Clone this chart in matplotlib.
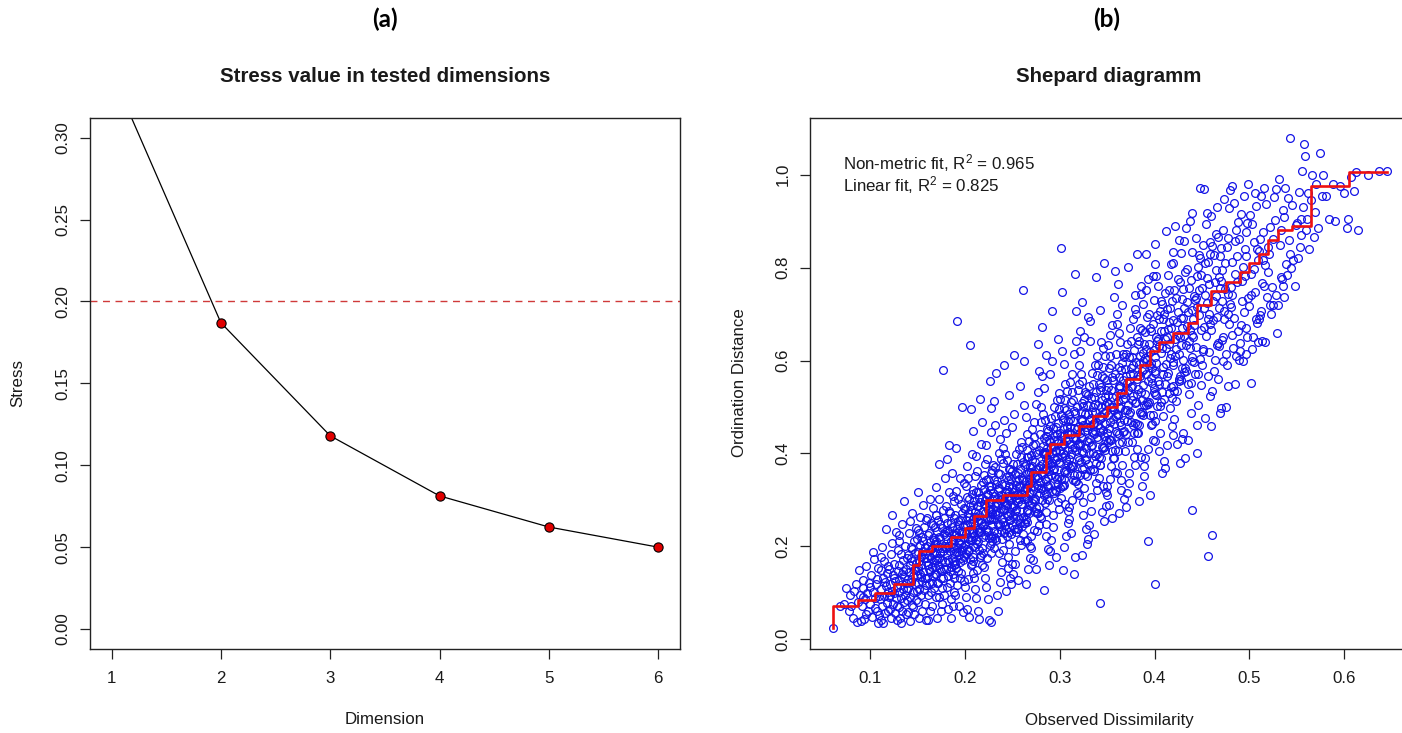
import matplotlib
matplotlib.use('Agg')
import matplotlib.pyplot as plt
import numpy as np

# ---------------- data ----------------
dimensions = [1, 2, 3, 4, 5, 6]
stress = [0.34, 0.187, 0.118, 0.0813, 0.0623, 0.050]
stress_threshold = 0.2

# Shepard diagram points (observed dissimilarity, ordination distance), in thousandths
shepard_points = [
(61,24),(68,72),(72,75),(75,110),(78,60),(79,95),
(80,72),(82,45),(83,105),(85,120),(86,38),(87,80),(88,150),(89,95),
(90,40),(91,72),(92,110),(93,128),(94,44),(95,86),(96,158),(97,100),(98,62),(99,122),(92,90),(96,55),
(100,76),(101,138),(102,48),(103,101),(104,172),(105,88),(106,118),(107,62),(108,154),(108,35),(109,94),(100,113),(103,188),(105,68),(107,129),(109,52),
(110,86),(111,149),(111,41),(112,108),(113,198),(113,71),(114,131),(115,94),(115,168),(116,56),(117,114),(117,238),(118,79),(118,143),(119,101),(119,61),(112,178),(114,36),(116,124),(119,158),
(120,92),(120,151),(121,66),(121,119),(122,184),(122,46),(123,104),(123,208),(124,76),(124,139),(125,99),(125,163),(126,56),(126,126),(127,89),(127,231),(128,112),(128,71),(129,148),(129,192),(121,96),(123,268),(125,131),(128,41),
(130,101),(130,159),(131,69),(131,128),(131,212),(132,46),(132,116),(133,184),(133,89),(134,141),(134,61),(134,248),(135,109),(135,171),(136,81),(136,134),(136,298),(137,96),(137,201),(138,54),(138,151),(138,121),(139,176),(139,84),(130,224),(133,36),(135,146),(139,106),
(140,111),(140,181),(140,59),(141,144),(141,229),(142,91),(142,161),(142,39),(143,124),(143,199),(144,74),(144,169),(144,272),(145,136),(145,101),(146,211),(146,54),(146,149),(147,119),(147,186),(148,84),(148,164),(148,239),(149,139),(149,104),(140,129),(142,254),(144,194),(145,69),(147,152),(149,216),(143,176),
(150,121),(150,188),(150,318),(151,149),(151,81),(151,236),(152,169),(152,109),(152,46),(153,204),(153,141),(153,264),(154,96),(154,179),(154,159),(155,126),(155,221),(155,61),(156,191),(156,144),(156,289),(157,106),(157,174),(157,241),(158,131),(158,199),(158,76),(159,166),(159,116),(159,256),(150,156),(152,229),(154,134),(156,211),(158,184),(159,42),
(160,131),(160,201),(160,262),(161,159),(161,96),(161,41),(162,181),(162,228),(162,121),(163,146),(163,209),(163,302),(164,101),(164,176),(164,251),(165,156),(165,196),(165,71),(166,136),(166,219),(166,282),(167,166),(167,111),(167,186),(168,241),(168,141),(168,206),(169,91),(169,171),(169,328),(160,176),(161,224),(162,151),(163,61),(164,194),(165,121),(166,246),(167,214),(168,156),(169,268),
(170,141),(170,211),(170,268),(171,46),(171,176),(171,234),(172,121),(172,196),(172,161),(173,221),(173,91),(173,301),(174,151),(174,249),(174,186),(175,131),(175,206),(175,61),(176,171),(176,239),(176,111),(177,580),(177,191),(177,279),(178,151),(178,226),(178,96),(179,201),(179,166),(179,348),(170,186),(171,121),(172,256),(173,176),(174,216),(175,146),(176,196),(177,131),(178,261),(179,231),(173,378),(176,76),
(180,152),(180,222),(180,288),(181,181),(181,112),(181,251),(182,201),(182,136),(182,66),(183,231),(183,166),(183,318),(184,191),(184,121),(184,271),(185,211),(185,156),(185,86),(186,241),(186,176),(186,358),(187,141),(187,216),(187,196),(188,262),(188,161),(188,101),(189,226),(189,186),(189,298),(180,196),(181,236),(182,171),(183,276),(184,146),(185,251),(186,206),(187,308),(188,131),(189,166),(183,418),(185,46),(187,71),(181,388),
(190,163),(191,228),(192,685),(193,188),(194,247),(195,132),(196,205),(197,272),(198,171),(199,219),
(190,96),(191,154),(192,238),(193,301),(194,182),(195,213),(196,143),(197,261),(198,199),(199,336),
(190,224),(191,187),(192,117),(193,254),(194,208),(195,166),(196,291),(197,232),(198,58),(199,178),
(190,268),(191,412),(192,196),(193,147),(194,233),(195,348),(196,176),(197,499),(198,243),(199,125),
(191,319),(193,221),(195,257),(197,192),(199,282),(194,72),
(200,246),(201,183),(202,307),(203,218),(204,264),(205,633),(206,159),(207,232),(208,289),(209,201),
(200,112),(201,256),(202,194),(203,347),(204,236),(205,172),(206,279),(207,213),(208,143),(209,321),
(200,281),(201,228),(202,66),(203,189),(204,302),(205,251),(206,221),(207,398),(208,177),(209,259),
(200,204),(201,331),(202,247),(203,129),(204,192),(205,286),(206,238),(207,163),(208,449),(209,228),
(201,92),(203,271),(205,214),(207,313),(209,168),(202,372),(204,48),(206,495),
(210,264),(211,198),(212,318),(213,236),(214,287),(215,44),(216,178),(217,251),(218,305),(219,221),
(210,131),(211,274),(212,214),(213,362),(214,254),(215,193),(216,296),(217,232),(218,161),(219,338),
(210,298),(211,246),(212,88),(213,206),(214,318),(215,268),(216,239),(217,421),(218,196),(219,277),
(210,223),(211,351),(212,263),(213,149),(214,211),(215,304),(216,256),(217,182),(218,468),(219,244),
(211,108),(213,288),(215,231),(217,333),(219,186),(212,394),(214,62),(216,518),
(220,291),(221,224),(222,342),(223,261),(224,311),(225,42),(226,203),(227,276),(228,331),(229,246),
(220,156),(221,299),(222,238),(223,388),(224,279),(225,218),(226,322),(227,258),(228,186),(229,364),
(220,323),(221,271),(222,112),(223,231),(224,344),(225,293),(226,264),(227,447),(228,221),(229,302),
(220,248),(221,377),(222,288),(223,174),(224,236),(225,329),(226,281),(227,207),(228,498),(229,269),
(221,133),(223,313),(225,256),(227,358),(229,211),(222,418),(224,86),(226,557),(228,38),(220,354),
(239,302),(238,236),(237,355),(236,274),(235,322),(234,96),(233,214),(232,288),(231,343),(230,258),
(239,167),(238,311),(237,249),(236,401),(235,291),(234,229),(233,334),(232,269),(231,197),(230,376),
(239,334),(238,283),(237,124),(236,243),(235,357),(234,305),(233,276),(232,461),(231,233),(230,314),
(239,259),(238,389),(237,299),(236,186),(235,248),(234,341),(233,293),(232,219),(231,512),(230,281),
(238,145),(236,325),(234,268),(232,371),(230,223),(237,431),(235,62),(233,574),(231,308),(239,216),
(245,308),(242,247),(248,366),(240,281),(247,329),(243,104),(249,226),(241,297),(246,352),(244,268),
(245,178),(242,318),(248,256),(240,412),(247,299),(243,237),(249,345),(241,278),(246,205),(244,387),
(245,343),(242,290),(248,132),(240,252),(247,366),(243,314),(249,285),(241,472),(246,241),(244,322),
(245,266),(242,398),(248,307),(240,193),(247,256),(243,350),(249,301),(241,228),(246,526),(244,289),
(245,153),(242,333),(248,275),(240,380),(247,231),(243,444),(249,118),(241,590),(246,316),(244,222),
(253,322),(257,258),(251,377),(259,292),(255,341),(250,163),(256,237),(252,309),(258,366),(254,278),
(253,189),(257,331),(251,266),(259,425),(255,311),(250,247),(256,357),(252,289),(258,214),(254,399),
(253,355),(257,301),(251,140),(259,262),(255,378),(250,326),(256,296),(252,486),(258,251),(254,333),
(253,276),(257,410),(251,318),(259,203),(255,265),(250,362),(256,312),(252,238),(258,545),(254,300),
(253,162),(257,345),(251,285),(259,392),(255,240),(250,458),(256,128),(252,612),(258,327),(254,232),
(269,336),(268,271),(267,392),(266,305),(265,356),(264,120),(263,250),(262,322),(261,381),(260,291),
(269,201),(268,346),(267,279),(266,441),(265,325),(264,260),(263,372),(262,302),(261,226),(260,414),
(269,370),(268,315),(267,151),(266,275),(265,393),(264,341),(263,309),(262,505),(261,263),(260,348),
(269,289),(268,426),(267,332),(266,214),(265,278),(264,377),(263,326),(262,250),(261,751),(260,313),
(269,175),(268,360),(267,298),(266,408),(265,252),(264,478),(263,212),(262,598),(261,342),(260,244),
(270,361),(271,294),(272,418),(273,329),(274,381),(275,152),(276,272),(277,347),(278,407),(279,315),
(270,222),(271,372),(272,302),(273,468),(274,350),(275,283),(276,398),(277,326),(278,247),(279,441),
(270,396),(271,340),(272,171),(273,298),(274,420),(275,367),(276,333),(277,533),(278,285),(279,373),
(270,312),(271,453),(272,357),(273,235),(274,301),(275,403),(276,351),(277,272),(278,578),(279,338),
(270,196),(271,386),(272,322),(273,435),(274,274),(275,506),(276,233),(277,636),(278,368),(279,266),
(285,391),(282,322),(288,449),(280,358),(287,411),(283,106),(289,299),(281,377),(286,438),(284,344),
(285,248),(282,402),(288,330),(280,500),(287,380),(283,311),(289,429),(281,355),(286,274),(284,472),
(285,427),(282,369),(288,195),(280,326),(287,452),(283,398),(289,362),(281,566),(286,312),(284,403),
(285,341),(282,486),(288,387),(280,261),(287,329),(283,434),(289,381),(281,299),(286,612),(284,367),
(285,222),(282,416),(288,350),(280,467),(287,301),(283,540),(289,160),(281,672),(286,398),(284,293),
(293,416),(297,345),(291,476),(299,382),(295,437),(290,191),(296,320),(292,402),(298,465),(294,367),
(293,268),(297,428),(291,353),(299,530),(295,405),(290,333),(296,456),(292,379),(298,295),(294,500),
(293,454),(297,393),(291,214),(299,349),(295,480),(290,424),(296,386),(292,598),(298,334),(294,428),
(293,364),(297,515),(291,412),(299,281),(295,351),(290,460),(296,406),(292,320),(298,646),(294,391),
(293,242),(297,442),(291,373),(299,496),(295,322),(290,571),(296,178),(292,706),(298,423),(294,314),
(309,431),(308,357),(307,494),(306,396),(305,453),(304,198),(303,330),(302,416),(301,482),(300,380),
(309,277),(308,443),(307,365),(306,550),(305,420),(304,344),(303,472),(302,392),(301,305),(300,518),
(309,470),(308,407),(307,222),(306,361),(305,497),(304,439),(303,400),(302,620),(301,345),(300,443),
(309,377),(308,534),(307,427),(306,291),(305,363),(304,476),(303,421),(302,331),(301,842),(300,405),
(309,250),(308,458),(307,386),(306,514),(305,333),(304,593),(303,150),(302,748),(301,438),(300,325),
(310,446),(311,368),(312,511),(313,409),(314,469),(315,140),(316,340),(317,430),(318,499),(319,392),
(310,285),(311,458),(312,376),(313,570),(314,434),(315,354),(316,488),(317,405),(318,314),(319,536),
(310,486),(311,421),(312,229),(313,373),(314,515),(315,454),(316,413),(317,642),(318,356),(319,458),
(310,389),(311,553),(312,442),(313,300),(314,374),(315,492),(316,436),(317,341),(316,787),(319,419),
(310,258),(311,474),(312,398),(313,532),(314,343),(315,614),(316,177),(317,706),(318,453),(319,335),
(325,461),(322,381),(328,528),(320,423),(327,485),(323,182),(329,352),(321,445),(326,516),(324,405),
(325,296),(322,474),(328,389),(320,590),(327,449),(323,366),(329,505),(321,419),(326,325),(324,555),
(325,503),(322,435),(328,238),(320,386),(327,533),(323,470),(329,427),(321,664),(326,368),(324,473),
(325,402),(322,572),(328,457),(320,311),(327,387),(323,509),(329,451),(321,353),(326,650),(324,433),
(325,268),(322,490),(328,411),(320,550),(327,355),(323,726),(329,205),(321,620),
(333,476),(337,394),(331,545),(339,436),(335,500),(330,215),(336,363),(332,459),(338,533),(334,418),
(333,306),(337,489),(331,401),(339,609),(335,464),(330,378),(336,521),(332,432),(338,336),(334,573),
(333,519),(337,449),(331,246),(339,398),(335,550),(330,485),(336,441),(332,686),(338,380),(334,489),
(333,415),(337,590),(331,472),(339,321),(335,400),(330,525),(336,466),(332,364),(338,780),(334,447),
(333,277),(337,506),(331,424),(339,568),(335,367),(330,694),(336,226),(332,641),
(349,491),(348,407),(347,562),(346,450),(345,516),(343,79),(343,375),(342,474),(341,550),(340,431),
(349,316),(348,505),(347,414),(346,628),(345,479),(344,390),(343,537),(342,446),(341,347),(340,591),
(349,536),(348,463),(347,254),(346,411),(345,567),(344,501),(343,455),(342,708),(341,392),(340,504),
(349,428),(348,609),(347,487),(346,331),(345,413),(344,542),(343,481),(342,376),(347,810),(340,461),
(349,286),(348,521),(347,437),(346,586),(345,275),(344,640),
(350,511),(351,424),(352,585),(353,468),(354,537),(355,262),(356,390),(357,493),(358,572),(359,449),
(350,329),(351,526),(352,431),(353,654),(354,499),(355,406),(356,559),(357,464),(358,361),(359,615),
(350,558),(351,482),(352,290),(353,428),(354,590),(355,521),(356,474),(357,737),(358,408),(359,524),
(350,445),(351,634),(352,507),(353,345),(354,430),(355,564),(356,501),(357,391),(358,792),(359,480),
(350,310),(351,542),(352,455),(353,610),(354,372),(355,676),
(365,531),(362,441),(368,608),(360,486),(367,558),(363,272),(369,405),(361,512),(366,594),(364,467),
(365,342),(362,546),(368,448),(360,679),(367,518),(363,422),(369,581),(361,482),(366,375),(364,639),
(365,580),(362,501),(368,301),(360,444),(367,613),(363,541),(369,493),(361,765),(366,424),(364,545),
(365,462),(362,659),(368,527),(360,358),(367,447),(363,586),(369,520),(361,406),(366,720),(364,498),
(365,322),(362,564),(368,472),(360,700),
(373,556),(377,462),(371,636),(379,509),(375,584),(370,285),(376,424),(372,536),(378,622),(374,489),
(373,358),(377,572),(371,469),(379,711),(375,542),(370,442),(376,608),(372,505),(378,392),(374,669),
(373,607),(377,524),(371,315),(379,465),(375,642),(370,567),(376,516),(372,801),(378,443),(374,570),
(373,484),(377,690),(371,552),(379,375),(375,468),(370,613),(376,545),(372,425),
(373,337),(377,590),(371,494),(379,740),
(389,581),(388,483),(387,665),(386,532),(385,610),(384,297),(383,443),(382,560),(381,650),(380,511),
(389,374),(388,598),(387,490),(386,743),(385,567),(384,462),(383,636),(382,528),(381,410),(380,700),
(389,635),(388,548),(387,329),(386,486),(385,671),(384,592),(383,539),(382,830),(381,463),(380,596),
(389,505),(388,721),(387,577),(386,392),(385,489),(384,641),(383,569),(382,444),
(389,352),(388,617),(387,516),(386,760),
(390,606),(391,504),(392,694),(393,555),(394,636),(395,310),(396,462),(397,584),(398,678),(399,533),
(390,390),(391,624),(392,511),(393,775),(394,591),(395,482),(396,663),(397,551),(398,428),(399,730),
(390,662),(391,572),(393,212),(393,507),(394,700),(395,618),(396,563),(391,829),(398,483),(399,622),
(390,527),(391,752),(392,602),(393,409),(394,510),(395,669),(396,594),(397,463),(398,781),(399,540),
(405,631),(402,525),(408,722),(400,578),(407,663),(401,120),(409,481),(401,608),(406,706),(404,555),
(405,406),(402,650),(408,532),(400,808),(407,616),(403,502),(409,690),(401,574),(406,445),(404,760),
(405,689),(402,595),(408,357),(400,528),(407,729),(403,643),(409,586),(401,850),(406,503),(404,647),
(405,549),(402,783),(408,627),(400,426),(407,510),(403,697),(409,572),(401,470),
(413,651),(417,542),(411,745),(419,596),(415,684),(410,384),(416,497),(412,628),(418,729),(414,573),
(413,419),(417,671),(411,549),(419,834),(415,635),(410,518),(416,713),(412,592),(418,460),(414,785),
(413,711),(417,614),(411,368),(419,545),(415,752),(410,664),(416,605),(412,878),(418,519),(414,668),
(413,566),(417,808),(411,647),(419,440),(415,530),(410,700),
(429,671),(428,559),(427,768),(426,614),(425,705),(424,420),(423,512),(422,647),(421,751),(420,590),
(429,432),(428,691),(427,566),(426,860),(425,655),(424,534),(423,735),(422,610),(421,474),(420,809),
(429,733),(428,633),(427,380),(426,561),(425,775),(424,684),(423,624),(422,890),(421,535),(420,688),
(429,584),(428,832),(427,650),(426,555),
(430,691),(431,576),(432,791),(433,633),(434,726),(435,430),(436,528),(437,666),(438,774),(439,608),
(430,445),(431,712),(432,583),(433,885),(434,674),(435,550),(436,757),(437,628),(438,488),(439,833),
(430,755),(431,652),(432,391),(433,578),(434,798),(435,705),(436,643),(437,900),(438,551),(439,709),
(430,601),(431,857),
(445,716),(442,597),(448,820),(440,656),(447,752),(439,278),(449,547),(441,690),(446,802),(444,630),
(445,461),(442,738),(448,604),(440,917),(447,699),(443,570),(449,784),(441,651),(446,505),(444,863),
(445,782),(442,676),(448,971),(440,599),(447,827),(443,730),(449,666),(445,400),(446,571),(444,735),
(453,741),(457,618),(451,848),(459,679),(455,778),(456,180),(456,566),(452,714),(458,830),(454,652),
(453,477),(457,764),(451,625),(455,917),(455,723),(450,590),(456,811),(452,673),(458,523),(454,893),
(453,809),(457,700),(460,460),(451,620),(459,856),(450,756),(456,690),(452,970),
(469,756),(468,631),(467,865),(466,693),(465,794),(461,225),(463,578),(462,729),(461,847),(460,665),
(469,487),(468,780),(467,638),(466,930),(465,738),(464,602),(463,828),(462,687),(461,534),(460,911),
(469,826),(468,714),(467,560),(466,633),(465,873),(464,770),
(470,771),(471,644),(472,882),(473,707),(474,810),(475,500),(476,590),(477,743),(478,864),(479,678),
(470,497),(471,795),(472,651),(473,948),(474,753),(475,614),(476,845),(477,701),(478,545),(479,929),
(470,842),(471,728),(472,600),(473,690),
(485,786),(482,656),(488,899),(480,721),(487,825),(482,975),(489,601),(481,758),(486,880),(484,692),
(485,550),(482,811),(488,664),(480,966),(487,768),(483,626),(489,861),(481,715),(486,610),(484,940),
(485,858),(482,742),
(493,801),(497,669),(491,916),(499,735),(495,841),(490,620),(496,613),(492,772),(498,897),(494,705),
(493,600),(497,826),(491,677),(499,980),(495,782),(490,638),(496,877),(492,729),(498,650),(494,955),
(509,816),(508,681),(507,933),(506,748),(505,856),(502,552),(503,624),(502,787),(501,914),(500,718),
(509,640),(508,841),(507,690),(506,960),(505,797),(504,650),(503,893),(502,742),
(510,836),(511,698),(512,955),(513,767),(514,877),(513,642),(516,640),(517,806),(518,937),(519,736),
(510,690),(511,862),(512,707),(515,971),(514,816),(515,760),
(525,861),(522,719),(528,970),(520,790),(527,903),(523,700),(529,660),(521,830),(526,951),(524,758),
(525,720),(522,888),(528,740),(520,845),
(533,881),(537,736),(531,990),(539,808),(535,924),(530,720),(536,760),(532,849),(538,971),(534,776),
(533,780),(537,909),
(549,891),(548,760),(543,1079),(546,817),(545,934),(544,800),(543,830),(542,859),(541,950),(540,785),
(550,896),(551,820),(552,962),(553,845),(555,870),(556,1008),(557,930),(558,1067),(559,1041),(554,905),
(560,880),(561,905),(562,960),(563,840),(565,945),(566,1000),(568,865),(569,920),
(570,980),(572,885),(575,1046),(577,955),(578,1000),
(581,955),(584,905),(588,980),(590,900),(596,975),
(600,960),(603,885),(604,905),(607,995),(610,965),(612,1005),(615,880),
(625,1000),(637,1007),(645,1008)
]
observed_dissimilarity = np.array([p[0] for p in shepard_points]) / 1000.0
ordination_distance = np.array([p[1] for p in shepard_points]) / 1000.0

# Non-metric (isotonic) fit step line
step_diss = [0.061, 0.061, 0.087, 0.105, 0.125, 0.145, 0.152, 0.165, 0.185, 0.200, 0.210, 0.222, 0.240, 0.265, 0.270, 0.285, 0.290, 0.305, 0.320, 0.335, 0.350, 0.360, 0.370, 0.385, 0.395, 0.405, 0.420, 0.435, 0.445, 0.460, 0.475, 0.490, 0.500, 0.510, 0.520, 0.530, 0.545, 0.565, 0.605, 0.645]
step_fit = [0.024, 0.072, 0.085, 0.100, 0.120, 0.160, 0.190, 0.200, 0.220, 0.240, 0.265, 0.300, 0.310, 0.330, 0.360, 0.400, 0.420, 0.440, 0.460, 0.480, 0.500, 0.530, 0.560, 0.590, 0.620, 0.640, 0.660, 0.680, 0.720, 0.750, 0.770, 0.790, 0.810, 0.830, 0.860, 0.880, 0.890, 0.975, 1.005, 1.005]

stress_yticks = [0.00, 0.05, 0.10, 0.15, 0.20, 0.25, 0.30]
shep_xticks = [0.1, 0.2, 0.3, 0.4, 0.5, 0.6]
shep_yticks = [0.0, 0.2, 0.4, 0.6, 0.8, 1.0]

# ---------------- style ----------------
plt.rcParams['font.family'] = ['Liberation Sans', 'DejaVu Sans']
plt.rcParams['mathtext.fontset'] = 'custom'
plt.rcParams['mathtext.rm'] = 'Liberation Sans'
plt.rcParams['mathtext.it'] = 'Liberation Sans'
TXT = '#1a1a1a'
FS = 12.2
W, H = 1402, 733

fig = plt.figure(figsize=(W / 100, H / 100), dpi=100)

def px_axes(l, t, r, b):
    return [l / W, 1 - b / H, (r - l) / W, (b - t) / H]

def style_axes(ax):
    for s in ax.spines.values():
        s.set_color('#222222')
        s.set_linewidth(1.0)
    ax.tick_params(direction='out', length=7, width=0.9, color='#222222',
                   labelsize=FS, labelcolor=TXT)
    ax.tick_params(axis='x', pad=9)
    ax.tick_params(axis='y', pad=7, labelrotation=90)
    for lab in ax.get_yticklabels():
        lab.set_va('center')

# ---- panel (a) ----
ax1 = fig.add_axes(px_axes(89.7, 118, 680, 648.7))
ax1.plot(dimensions, stress, color='black', lw=0.9, zorder=2)
ax1.scatter(dimensions, stress, s=44, facecolor='#E00000', edgecolor='black',
            linewidths=0.8, zorder=3)
ax1.axhline(stress_threshold, color='#D03A3A', lw=1.0, ls=(0, (5, 4)), zorder=1)
ax1.set_xlim(0.8, 6.2)
ax1.set_ylim(-0.012, 0.312)
ax1.set_xticks(dimensions)
ax1.set_xticklabels([str(d) for d in dimensions])
ax1.set_yticks(stress_yticks)
ax1.set_yticklabels(['%.2f' % v for v in stress_yticks])
style_axes(ax1)

# ---- panel (b) ----
ax2 = fig.add_axes(px_axes(810, 118, 1409, 648.7))
ax2.plot(observed_dissimilarity, ordination_distance, ls='none', marker='o',
         markersize=5.6, markerfacecolor='none', markeredgecolor='#1414E6',
         markeredgewidth=0.9, zorder=2)
ax2.step(step_diss, step_fit, where='post', color='#EE1111', lw=1.9, zorder=3)
ax2.set_xlim(0.0366, 0.6684)
ax2.set_ylim(-0.0202, 1.122)
ax2.set_xticks(shep_xticks)
ax2.set_xticklabels(['%.1f' % v for v in shep_xticks])
ax2.set_yticks(shep_yticks)
ax2.set_yticklabels(['%.1f' % v for v in shep_yticks])
style_axes(ax2)

# ---- texts ----
def ftext(x, y, s, **kw):
    fig.text(x / W, 1 - y / H, s, **kw)

ftext(385, 19, '(a)', ha='center', va='center', fontsize=17.5, fontweight='bold',
      family=['Lato', 'DejaVu Sans'], color='black')
ftext(1107, 19, '(b)', ha='center', va='center', fontsize=17.5, fontweight='bold',
      family=['Lato', 'DejaVu Sans'], color='black')
ftext(385, 77, 'Stress value in tested dimensions', ha='center', va='center',
      fontsize=14.8, fontweight='bold', color=TXT)
ftext(1109, 77, 'Shepard diagramm', ha='center', va='center',
      fontsize=14.8, fontweight='bold', color=TXT)
ftext(385, 720, 'Dimension', ha='center', va='center', fontsize=FS, color=TXT)
ftext(18, 383, 'Stress', ha='center', va='center', rotation=90, fontsize=FS, color=TXT)
ftext(1109, 720, 'Observed Dissimilarity', ha='center', va='center', fontsize=FS, color=TXT)
ftext(740, 383, 'Ordination Distance', ha='center', va='center', rotation=90, fontsize=FS, color=TXT)
ftext(843, 163, r'Non-metric fit, R$^2$ = 0.965', ha='left', va='center', fontsize=FS, color=TXT)
ftext(843, 185, r'Linear fit, R$^2$ = 0.825', ha='left', va='center', fontsize=FS, color=TXT)

fig.savefig('out.png', dpi=100)
